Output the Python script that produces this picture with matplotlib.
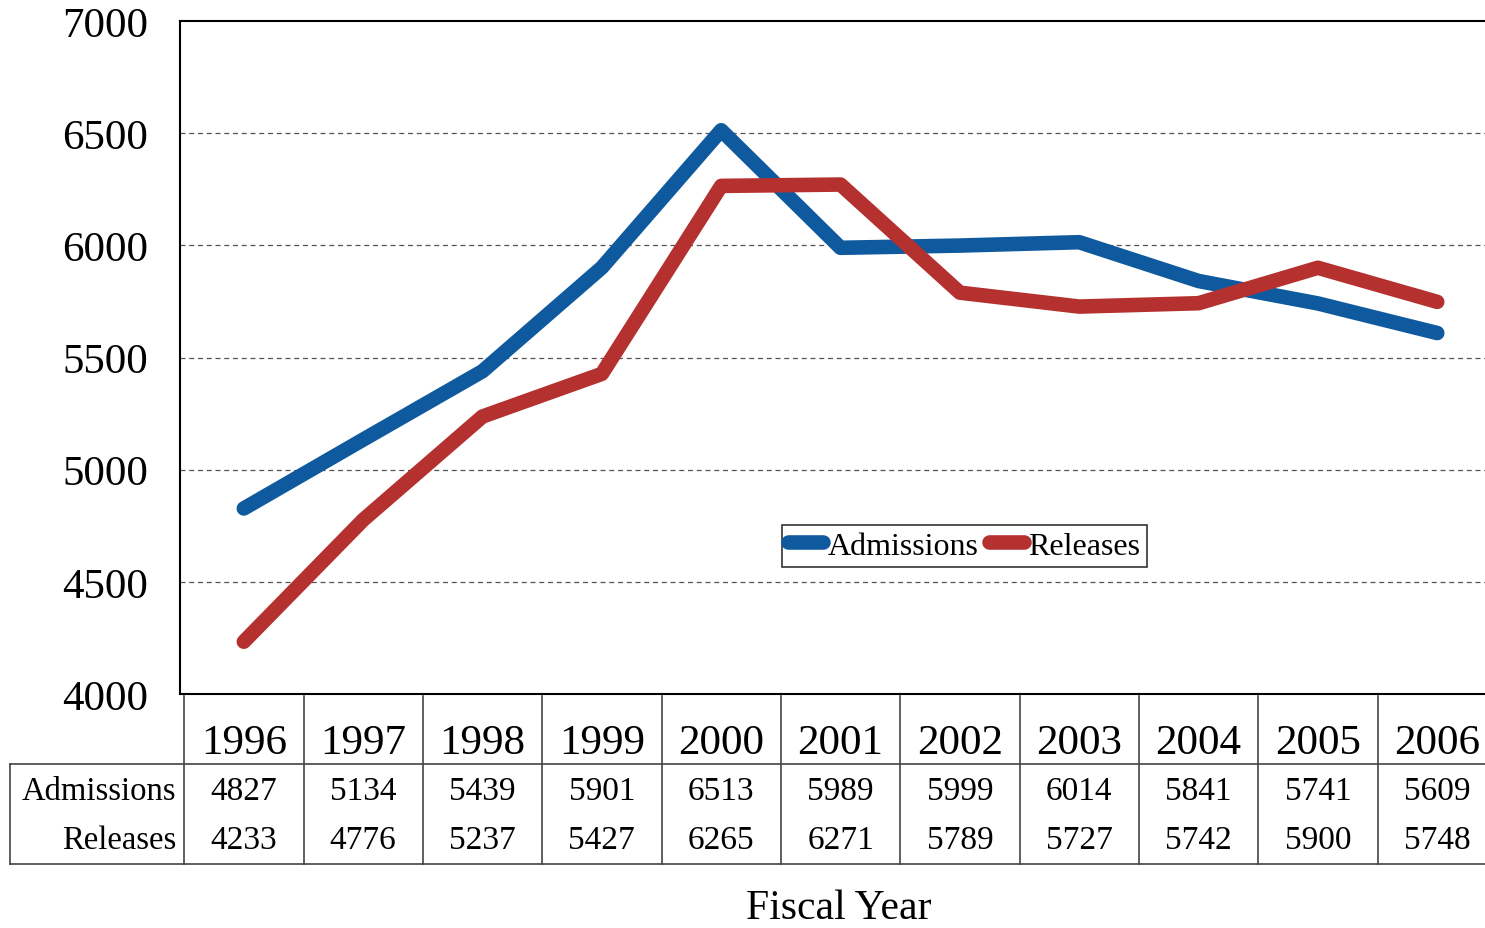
import matplotlib

matplotlib.use("Agg")
import matplotlib.pyplot as plt
from matplotlib.transforms import blended_transform_factory

# data
years = ["1996", "1997", "1998", "1999", "2000", "2001",
         "2002", "2003", "2004", "2005", "2006"]
admissions = [4827, 5134, 5439, 5901, 6513, 5989, 5999, 6014, 5841, 5741, 5609]
releases = [4233, 4776, 5237, 5427, 6265, 6271, 5789, 5727, 5742, 5900, 5748]
yticks = [4000, 4500, 5000, 5500, 6000, 6500, 7000]

BLUE = "#0f5a9e"
RED = "#b5312f"

plt.rcParams["font.family"] = ["Liberation Serif", "DejaVu Serif"]

fig = plt.figure(figsize=(14.85, 9.29), dpi=100)
ax = fig.add_axes([0.1212, 0.2519, 0.8788, 0.7244])

x = list(range(len(years)))
ax.plot(x, admissions, color=BLUE, lw=10.5, label="Admissions", solid_capstyle="round")
ax.plot(x, releases, color=RED, lw=10.5, label="Releases", solid_capstyle="round")

ax.set_xlim(-0.535, 10.4)
ax.set_ylim(4000, 7000)
ax.set_yticks(yticks)
ax.tick_params(axis="y", length=0, pad=23, labelsize=31)
ax.set_xticks([])
for yv in yticks[1:-1]:
    ax.axhline(yv, color="#555555", lw=0.9, ls=(0, (4, 3)), zorder=0)
ax.spines["right"].set_visible(False)
for sp in ["left", "top", "bottom"]:
    ax.spines[sp].set_linewidth(1.5)

leg = ax.legend(loc="center", bbox_to_anchor=(0.601, 0.22), ncol=2,
                fontsize=23, frameon=True, fancybox=False, edgecolor="black",
                handlelength=1.1, handletextpad=0.15, columnspacing=0.3,
                borderpad=0.2)
leg.get_frame().set_linewidth(1.2)

# data table under the chart
tr = blended_transform_factory(ax.transData, fig.transFigure)
y_top, y_hdr, y_bot = 0.2497, 0.1765, 0.0689
lc = "#444444"
for i in range(len(years) + 1):
    ax.plot([i - 0.5, i - 0.5], [y_top, y_bot], color=lc, lw=1.2,
            transform=tr, clip_on=False)
for yy in [y_hdr, y_bot]:
    ax.plot([0.0067, 1.0], [yy, yy], color=lc, lw=1.2,
            transform=fig.transFigure, clip_on=False)
ax.plot([0.0067, 0.0067], [y_hdr, y_bot], color=lc, lw=1.2,
        transform=fig.transFigure, clip_on=False)

for i, yr in enumerate(years):
    ax.text(i, 0.1995, yr, transform=tr, ha="center", va="center", fontsize=31)
    ax.text(i, 0.1475, str(admissions[i]), transform=tr, ha="center",
            va="center", fontsize=24)
    ax.text(i, 0.0948, str(releases[i]), transform=tr, ha="center",
            va="center", fontsize=24)
fig.text(0.1185, 0.1475, "Admissions", ha="right", va="center", fontsize=23.5)
fig.text(0.1185, 0.0948, "Releases", ha="right", va="center", fontsize=23.5)

fig.text(0.565, 0.022, "Fiscal Year", ha="center", va="center", fontsize=30)

fig.savefig("out.png", dpi=100)
plt.close(fig)
